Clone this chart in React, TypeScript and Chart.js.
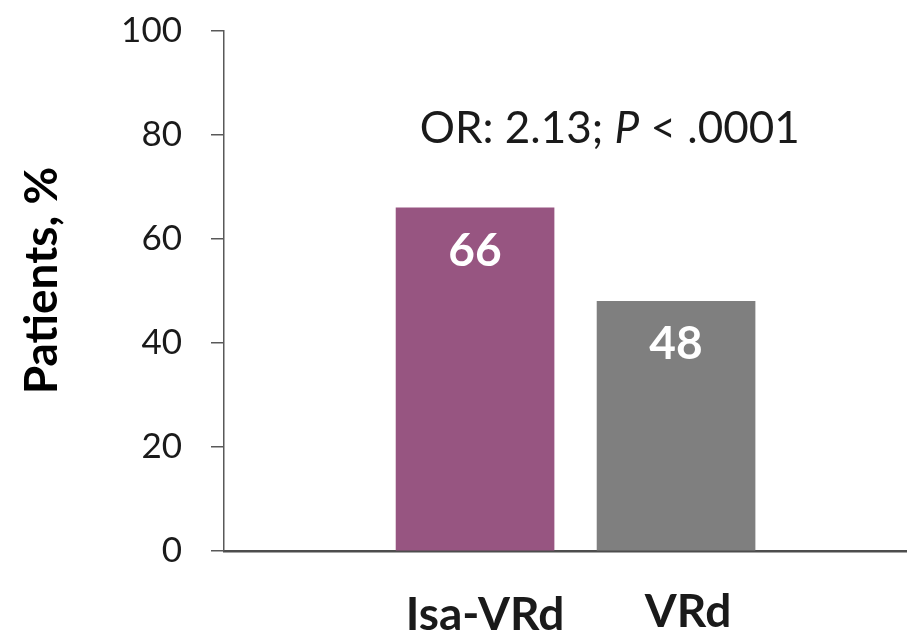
import React, { useEffect, useRef } from "react";
import { Chart, registerables } from "chart.js";

Chart.register(...registerables);

// Response rates by treatment arm
const categories: string[] = ["Isa-VRd", "VRd"];
const responseRates: number[] = [66, 48];
const barColors: string[] = ["#975581", "#7f7f7f"];
const yTicks: number[] = [0, 20, 40, 60, 80, 100];
const yAxisTitle = "Patients, %";
const oddsRatioText = { before: "OR: 2.13; ", italic: "P", after: " < .0001" };

const FONT = "Lato, 'Open Sans', sans-serif";

// Draws the value labels inside the bars, the arm names under the axis,
// the odds-ratio note and the rotated y-axis title.
const annotationPlugin = {
  id: "armAnnotations",
  afterDatasetsDraw(chart: any) {
    const { ctx } = chart;
    const xs = chart.scales.x;
    const ys = chart.scales.y;
    const meta = chart.getDatasetMeta(0);
    ctx.save();

    // values inside bars
    ctx.fillStyle = "#ffffff";
    ctx.font = `bold 46px ${FONT}`;
    ctx.textAlign = "center";
    ctx.textBaseline = "middle";
    meta.data.forEach((bar: any, i: number) => {
      const top = ys.getPixelForValue(responseRates[i]);
      ctx.fillText(String(responseRates[i]), bar.x, top + 43);
    });

    // arm names below the x axis
    const shift = [
      { dx: 10, dy: 79 },
      { dx: 12, dy: 76 },
    ];
    ctx.fillStyle = "#1a1a1a";
    ctx.font = `bold 46px ${FONT}`;
    ctx.textBaseline = "alphabetic";
    const base = ys.getPixelForValue(0);
    meta.data.forEach((bar: any, i: number) => {
      ctx.fillText(categories[i], bar.x + shift[i].dx, base + shift[i].dy);
    });

    // odds ratio note
    const regular = `44px ${FONT}`;
    const italic = `italic 44px ${FONT}`;
    ctx.font = regular;
    const w1 = ctx.measureText(oddsRatioText.before).width;
    const w3 = ctx.measureText(oddsRatioText.after).width;
    ctx.font = italic;
    const w2 = ctx.measureText(oddsRatioText.italic).width;
    const cx = xs.getPixelForValue(1.67);
    const by = ys.getPixelForValue(78.4);
    let x = cx - (w1 + w2 + w3) / 2;
    ctx.textAlign = "left";
    ctx.fillStyle = "#1a1a1a";
    ctx.font = regular;
    ctx.fillText(oddsRatioText.before, x, by);
    x += w1;
    ctx.font = italic;
    ctx.fillText(oddsRatioText.italic, x, by);
    x += w2;
    ctx.font = regular;
    ctx.fillText(oddsRatioText.after, x, by);

    // y-axis title
    ctx.translate(42, ys.getPixelForValue(52));
    ctx.rotate(-Math.PI / 2);
    ctx.textAlign = "center";
    ctx.textBaseline = "middle";
    ctx.font = `bold 46px ${FONT}`;
    ctx.fillStyle = "#000000";
    ctx.fillText(yAxisTitle, 0, 0);

    ctx.restore();
  },
};

export default function App() {
  const canvasRef = useRef<HTMLCanvasElement | null>(null);

  useEffect(() => {
    if (!canvasRef.current) return;
    const chart = new Chart(canvasRef.current, {
      type: "bar",
      data: {
        datasets: [
          {
            data: categories.map((c, i) => ({ x: i + 1, y: responseRates[i] })),
            backgroundColor: barColors,
            barThickness: 158,
            borderWidth: 0,
          },
        ],
      },
      options: {
        animation: false,
        responsive: true,
        maintainAspectRatio: false,
        layout: { padding: { top: 31, right: 0, bottom: 0, left: 0 } },
        plugins: {
          legend: { display: false },
          tooltip: { enabled: false },
        },
        scales: {
          x: {
            type: "linear",
            min: -0.249,
            max: 3.149,
            offset: false,
            z: 1,
            grid: { display: false },
            ticks: { display: false },
            border: { display: true, color: "#4d4d4d", width: 2.5 },
            afterFit(scale: any) {
              scale.height = 82;
              scale.paddingLeft = 0;
              scale.paddingRight = 0;
            },
          },
          y: {
            min: 0,
            max: 100,
            afterBuildTicks(scale: any) {
              scale.ticks = yTicks.map((v) => ({ value: v }));
            },
            grid: {
              drawOnChartArea: false,
              drawTicks: true,
              tickLength: 13,
              color: "#595959",
              lineWidth: 1.5,
            },
            border: { display: true, color: "#595959", width: 1.5 },
            ticks: {
              padding: 29,
              color: "#1a1a1a",
              font: { family: FONT, size: 35 },
            },
            afterFit(scale: any) {
              scale.width = 224;
              scale.paddingTop = 0;
              scale.paddingBottom = 0;
            },
          },
        },
      } as any,
      plugins: [annotationPlugin],
    });
    if ((document as any).fonts) {
      Promise.all([
        document.fonts.load(`35px Lato`),
        document.fonts.load(`bold 46px Lato`),
        document.fonts.load(`italic 44px Lato`),
      ])
        .then(() => chart.update())
        .catch(() => {});
    }
    return () => chart.destroy();
  }, []);

  return (
    <div
      style={{
        position: "fixed",
        left: 0,
        top: 0,
        width: 907,
        height: 633,
        background: "#ffffff",
      }}
    >
      <canvas ref={canvasRef} />
    </div>
  );
}
